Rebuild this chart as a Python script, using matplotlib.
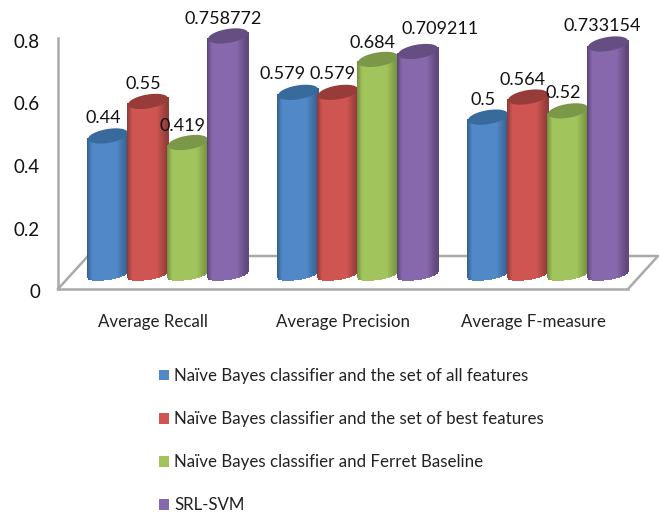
import numpy as np
import matplotlib
matplotlib.use('Agg')
import matplotlib.pyplot as plt
from matplotlib.colors import LinearSegmentedColormap
from matplotlib.patches import Patch, Polygon
from matplotlib.transforms import ScaledTranslation

plt.rcParams['font.family'] = ['Lato', 'DejaVu Sans']

categories = ['Average Recall', 'Average Precision', 'Average F-measure']
series_names = ['Naïve Bayes classifier and the set of all features',
                'Naïve Bayes classifier and the set of best features',
                'Naïve Bayes classifier and Ferret Baseline',
                'SRL-SVM']
all_features = [0.44, 0.579, 0.5]
best_features = [0.55, 0.579, 0.564]
ferret_baseline = [0.419, 0.684, 0.52]
srl_svm = [0.758772, 0.709211, 0.733154]
y_ticks = [0, 0.2, 0.4, 0.6, 0.8]

W, H = 659, 514
GRAY = '#a9a9a9'
# side colour, centre colour, top cap
palette = [('#35618f', '#5088c8', '#386a9b'),
           ('#8e3b39', '#cf5552', '#983c3a'),
           ('#75913f', '#a2c45c', '#7b9748'),
           ('#5c4679', '#8868ac', '#654e82')]
# label shift from the top of each cylinder, in pixels
label_dx = [[-5, -15, -5], [-5, -5, -5], [-5, -6, -5], [-5, 22, -6]]
label_dy = [[18, 18, 17], [17, 18, 17], [17, 16, 18], [17, 22, 18]]

fig = plt.figure(figsize=(W / 100, H / 100), dpi=100)
ax = fig.add_axes([58 / W, 1 - 289 / H, 570 / W, 251 / H])
ax.set_xlim(0, 3)
ax.set_ylim(0, 0.8)
px_x = 3 / 570      # data units per pixel
px_y = 0.8 / 251

for side in ['top', 'right']:
    ax.spines[side].set_visible(False)
for side in ['left', 'bottom']:
    ax.spines[side].set_color(GRAY)
    ax.spines[side].set_linewidth(1.8)
ax.set_xticks(np.arange(3) + 0.5, categories, fontsize=12.2)
ax.set_yticks(y_ticks, ['0', '0.2', '0.4', '0.6', '0.8'], fontsize=13.5)
ax.tick_params(axis='x', length=0, pad=18, colors='#222222')
ax.tick_params(axis='y', length=0, pad=13, colors='#111111')
for lab in ax.get_yticklabels():
    lab.set_transform(lab.get_transform() + ScaledTranslation(0, -2.5 / 100, fig.dpi_scale_trans))

# floor behind the bars
dx, dy = 30 * px_x, 33 * px_y
floor = np.array([[0, 0], [dx, dy], [3 + dx, dy], [3, 0]])
ax.plot(floor[:, 0], floor[:, 1], color=GRAY, lw=1.8, clip_on=False, zorder=1)


def cylinder(cx, value, colors):
    t = np.linspace(-1, 1, 61)
    x = cx + t * 20 * px_x
    tilt = t * 3 * px_y
    lift = 15 * px_y
    bottom = lift + tilt - np.sqrt(1 - t ** 2) * 5 * px_y
    top = lift + value + tilt - np.sqrt(1 - t ** 2) * 7 * px_y
    upper = lift + value + tilt + np.sqrt(1 - t ** 2) * 7 * px_y
    cmap = LinearSegmentedColormap.from_list('shade', [colors[0], colors[1], colors[1], colors[0]])
    shade = cmap(np.interp(t[:-1], [-1, -0.75, 0.45, 1], [0, 0.34, 0.66, 1]))
    X = np.vstack([x, x])
    Y = np.vstack([bottom, top])
    mesh = ax.pcolormesh(X, Y, np.zeros((1, 60)), shading='flat', zorder=3, clip_on=False)
    mesh.set_array(None)
    mesh.set_facecolor(shade[:, :3])
    mesh.set_edgecolor('face')
    mesh.set_linewidth(0.3)
    ax.add_patch(Polygon(np.column_stack([np.r_[x, x[::-1]], np.r_[top, upper[::-1]]]),
                         fc=colors[2], ec='none', zorder=3, clip_on=False))
    ax.set_xlim(0, 3)
    ax.set_ylim(0, 0.8)


series = [all_features, best_features, ferret_baseline, srl_svm]
for k, values in enumerate(series):
    for g, v in enumerate(values):
        cx = g + 0.5 + 15 * px_x + (k - 1.5) * 40 * px_x
        cylinder(cx, v, palette[k])
        ax.annotate(str(v), (cx, v + 15 * px_y), xytext=(label_dx[k][g], label_dy[k][g]),
                    textcoords='offset pixels', ha='center', va='center',
                    fontsize=13, color='#111111', zorder=5, annotation_clip=False)

handles = [Patch(fc=c[1], ec='none') for c in palette]
fig.legend(handles, series_names, loc='upper left', bbox_to_anchor=(159 / W, 1 - 368 / H),
           frameon=False, fontsize=12.2, labelspacing=1.6, handlelength=0.6, handleheight=0.6,
           handletextpad=0.3, borderpad=0, borderaxespad=0, labelcolor='#222222')

fig.savefig('out.png', dpi=100)
